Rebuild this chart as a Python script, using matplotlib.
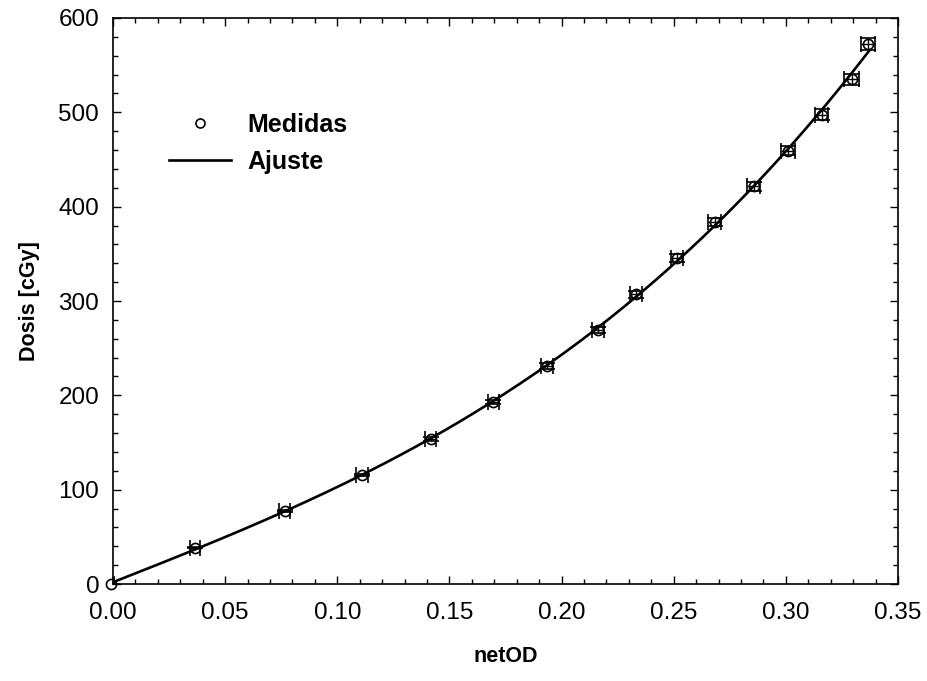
import numpy as np
import matplotlib
matplotlib.use('Agg')
import matplotlib.pyplot as plt
from matplotlib.lines import Line2D
from matplotlib.ticker import MultipleLocator

plt.rcParams['font.family'] = ['Liberation Sans', 'DejaVu Sans']

net_od = [-0.001, 0.0365, 0.0766, 0.111, 0.1416, 0.1696, 0.1934, 0.2163,
          0.2332, 0.2515, 0.2682, 0.2856, 0.3010, 0.3159, 0.3293, 0.3367]
dosis = [0.0, 38.5, 77.0, 115.5, 154.0, 193.0, 231.0, 269.0,
         307.0, 345.5, 383.5, 421.5, 459.5, 497.5, 535.0, 572.5]
od_err = [0.0015, 0.0024, 0.0024, 0.0025, 0.0025, 0.0026, 0.0026, 0.0027,
          0.0027, 0.0028, 0.0029, 0.0030, 0.0031, 0.0031, 0.0032, 0.0032]
dosis_err = [0.0, 0.5, 1.0, 1.5, 2.0, 2.4, 2.8, 3.2,
             3.6, 4.0, 4.4, 4.8, 5.2, 5.6, 6.0, 6.3]

# fit curve (cubic through the points)
coef = np.polyfit(net_od, dosis, 3)
x_fit = np.linspace(0, 0.3372, 200)
y_fit = np.polyval(coef, x_fit)

# =============================
fig = plt.figure(figsize=(9.28, 6.81), dpi=100)
ax = fig.add_axes([0.1218, 0.1424, 0.8459, 0.8312])

ax.plot(x_fit, y_fit, color='k', lw=1.9, zorder=3)
eb = ax.errorbar(net_od, dosis, xerr=od_err, yerr=dosis_err, fmt='o', ms=7.3,
                 mfc='none', mec='k', mew=1.2, ecolor='k', elinewidth=1.0,
                 capsize=5.5, capthick=1.0, zorder=4)
eb[0].set_clip_on(False)

ax.set_xlim(0, 0.35)
ax.set_ylim(0, 600)
ax.xaxis.set_minor_locator(MultipleLocator(0.01))
ax.yaxis.set_major_locator(MultipleLocator(100))
ax.yaxis.set_minor_locator(MultipleLocator(20))
ax.set_xticks(np.arange(0, 0.351, 0.05))
ax.set_xticklabels(['%.2f' % v for v in np.arange(0, 0.351, 0.05)])

ax.tick_params(which='both', direction='in', top=True, right=True,
               labelsize=17.5, width=1.0)
ax.tick_params(which='major', length=6)
ax.tick_params(which='minor', length=3.5)
ax.tick_params(axis='x', which='major', pad=13)
ax.tick_params(axis='y', which='major', pad=10)
for s in ax.spines.values():
    s.set_linewidth(1.2)

ax.set_xlabel('netOD', fontsize=15.5, fontweight='bold', labelpad=16)
ax.set_ylabel('Dosis [cGy]', fontsize=15.5, fontweight='bold', labelpad=13)

handles = [Line2D([], [], marker='o', ls='none', ms=6.5, mfc='none', mec='k', mew=1.2),
           Line2D([], [], color='k', lw=1.9)]
leg = ax.legend(handles, ['Medidas', 'Ajuste'], loc='upper left',
                bbox_to_anchor=(0.0713, 0.833), frameon=False, borderpad=0,
                borderaxespad=0, handlelength=2.47, handletextpad=0.66,
                labelspacing=0.52, prop={'size': 18, 'weight': 'bold'})

fig.savefig('out.png', dpi=100)
